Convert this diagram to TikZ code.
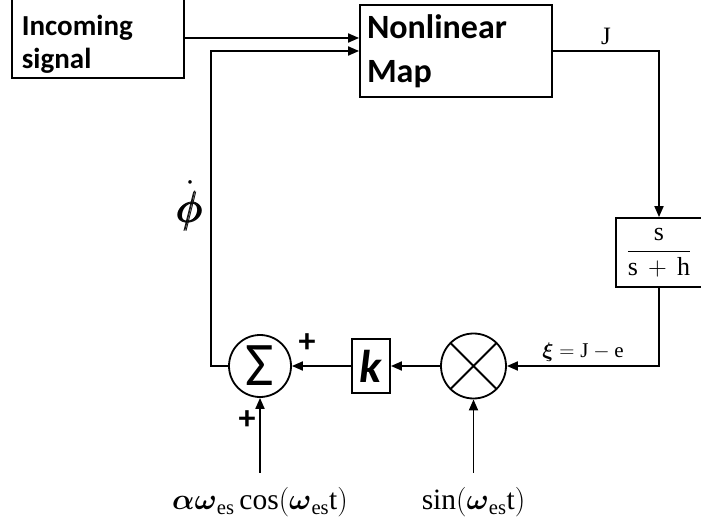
\documentclass[tikz,border=0pt]{standalone}
\usepackage{fix-cm}
\usepackage{amsmath}
\usepackage{fontspec}
\setmainfont{Liberation Serif}
\newfontfamily\calib{Carlito}
\usetikzlibrary{arrows.meta,positioning}

\begin{document}
\begin{tikzpicture}[x=1pt,y=-1pt,line width=1.8pt,
      blk/.style={draw,line width=1.8pt,inner sep=0pt},
      sj/.style={draw,circle,line width=1.8pt,inner sep=0pt},
      a/.style={-{Triangle[length=11pt,width=9pt]},line width=1.8pt},
      lbl/.style={font=\calib\bfseries\fontsize{29}{33}\selectfont},
      sig/.style={font=\fontsize{29.5}{29.5}\selectfont,inner ysep=14pt},
      pl/.style={font=\calib\bfseries\fontsize{34}{34}\selectfont,inner sep=0pt}]
      \useasboundingbox (0,0) rectangle (701,526);
      % blocks
      \node[blk,minimum width=172pt,minimum height=80pt] (incoming) at (98,38) {};
      \node[lbl,inner sep=0pt,anchor=north west,align=left] (inctxt) at (21,14.5)
        {Incoming\\signal};
      \node[blk,font=\calib\bfseries\fontsize{34}{44}\selectfont,
        minimum width=192pt,minimum height=92pt,align=left,text width=178pt]
        (nonlin) at (456,51) {Nonlinear\\Map};
      \node[blk,minimum width=86pt,minimum height=69pt,
        font=\fontsize{26}{26}\selectfont] (hpf) at (659,252.5)
        {$\dfrac{\mathrm{s}}{\mathrm{s}\,+\,\mathrm{h}}$};
      \node[sj,minimum size=65pt] (mult) at (473.5,366) {};
      \draw (mult.45)--(mult.225) (mult.135)--(mult.-45);
      \node[blk,minimum width=38pt,minimum height=54pt,
        font=\calib\bfseries\itshape\fontsize{46}{46}\selectfont] (kgain) at (371,366) {k};
      \node[sj,minimum size=62pt,font=\calib\fontsize{62}{62}\selectfont] (sum) at (260,366) {Σ};
      \node[pl] (pk) at (307,343) {+};
      \node[pl] (pin) at (247,420) {+};
      \node[font=\fontsize{44}{44}\selectfont,inner sep=0pt] (phidot) at (190,206)
        {$\dot{\pmb{\phi}}$};
      \node[sig] (cosin) at (260,502.5)
        {$\boldsymbol{\alpha\omega}_{\mathrm{es}}\cos(\boldsymbol{\omega}_{\mathrm{es}}\mathrm{t})$};
      \node[sig] (sinin) at (473.5,502.5) {$\sin(\boldsymbol{\omega}_{\mathrm{es}}\mathrm{t})$};
      \coordinate (fb) at (211,366);
      % connectors
      \draw[a] (incoming.east)--(incoming.east -| nonlin.west);
      \draw[a] (sum.west)--(fb) |- (nonlin.west);
      \draw[a] (nonlin.east) -| node[pos=.25,above=2pt,font=\fontsize{25}{25}\selectfont] {J} (hpf.north);
      \draw[a] (hpf.south) |- node[pos=.75,above,font=\fontsize{21}{21}\selectfont]
        {$\boldsymbol{\xi}=\mathrm{J}-\mathrm{e}$} (mult.east);
      \draw[a] (mult.west)--(kgain.east);
      \draw[a] (kgain.west)--(sum.east);
      \draw[a] (cosin.north)--(sum.south);
      \draw[a] (sinin.north)--(mult.south);
    \end{tikzpicture}
\end{document}
